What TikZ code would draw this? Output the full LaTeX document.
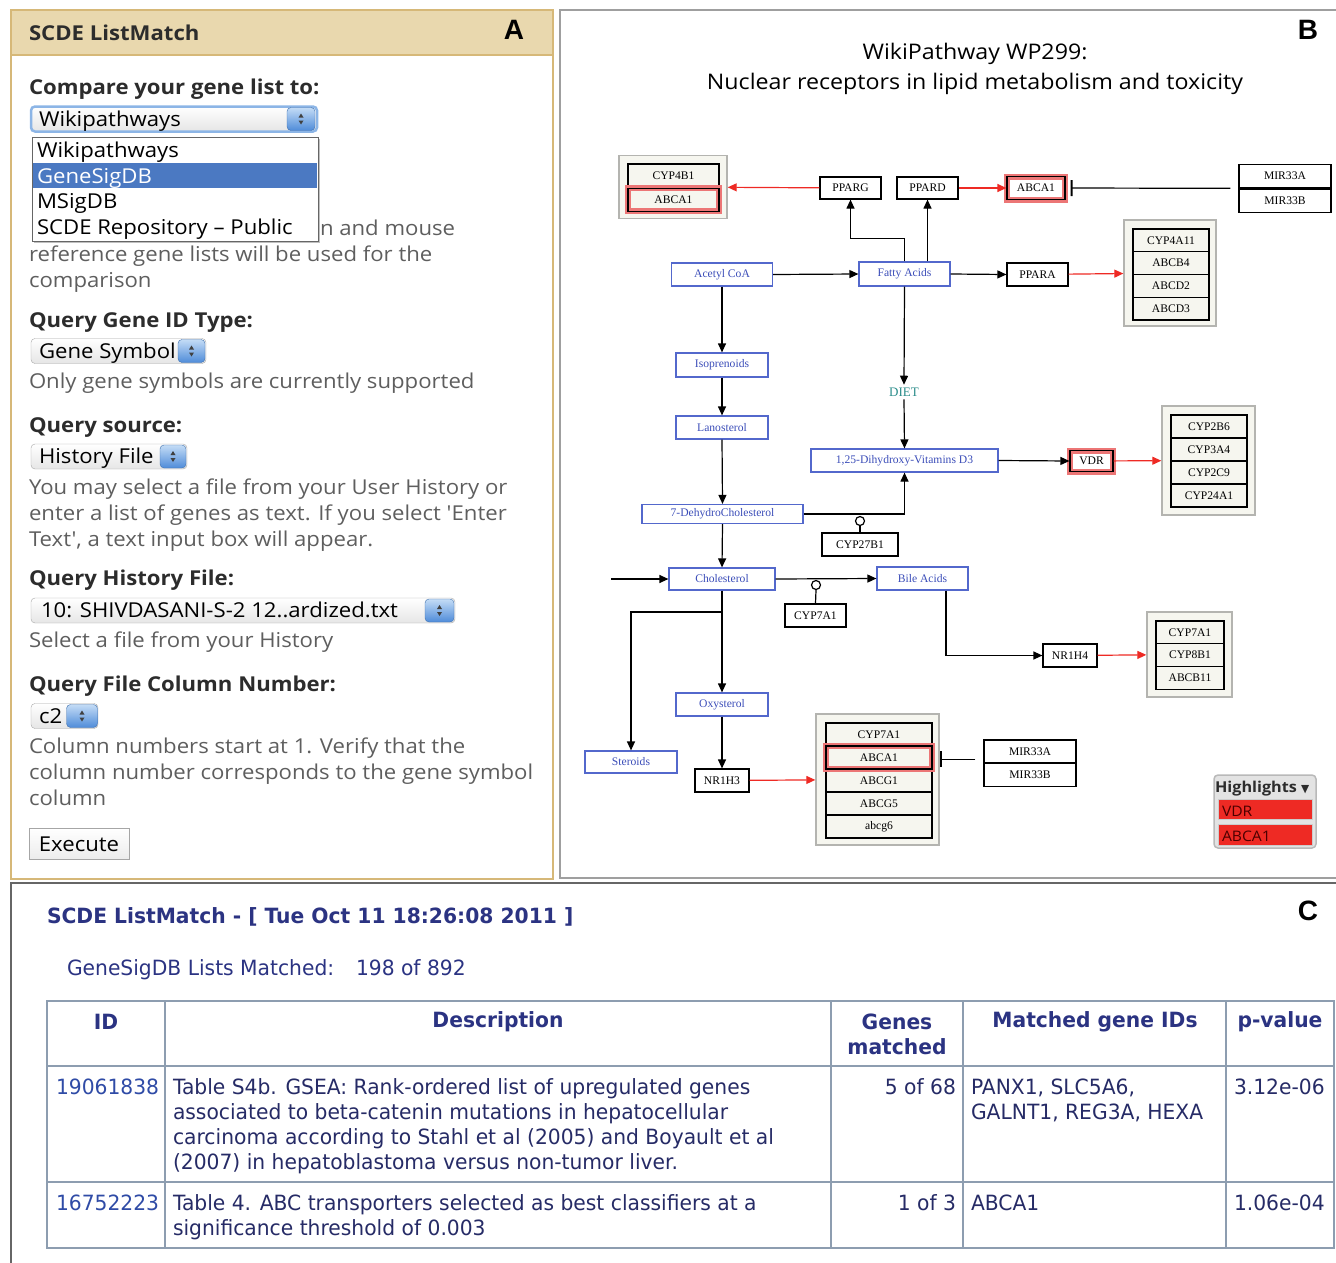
\documentclass[tikz,border=0pt]{standalone}
\usepackage{fontspec}
\setmainfont{Liberation Serif}
\newfontfamily\uifont[FakeStretch=1.08]{Open Sans}
\newfontfamily\tabfont[FakeStretch=0.965]{DejaVu Sans}
\newfontfamily\labfont{Liberation Sans}
\usetikzlibrary{arrows.meta,positioning,calc,shadows}

\definecolor{tanfill}{HTML}{E9D8AE}
\definecolor{tanline}{HTML}{D6B878}
\definecolor{headtxt}{HTML}{2C2C2C}
\definecolor{bodytxt}{HTML}{5E5E5E}
\definecolor{focusblue}{HTML}{8CB5E6}
\definecolor{listblue}{HTML}{4B79C2}
\definecolor{stepA}{HTML}{C4DCF6}
\definecolor{stepB}{HTML}{4F8CD9}
\definecolor{pwblue}{HTML}{3B4DB8}
\definecolor{pwline}{HTML}{5368CC}
\definecolor{grpfill}{HTML}{F6F6EF}
\definecolor{grpline}{HTML}{B4B4B0}
\definecolor{actred}{HTML}{EE2A24}
\definecolor{hlred}{HTML}{EC7676}
\definecolor{dietteal}{HTML}{2A8C8A}
\definecolor{navy}{HTML}{2B3382}
\definecolor{linkblue}{HTML}{2F4BA6}
\definecolor{tabline}{HTML}{8D9DB0}
\definecolor{tabtxt}{HTML}{262B66}

\tikzset{txt base/.style={inner sep=0pt,outer sep=0pt,anchor=mid west,yshift=-5pt}, }
\tikzset{ui head/.style={txt base,font=\uifont\bfseries\fontsize{20.5}{22}\selectfont,text=headtxt}, }
\tikzset{ui body/.style={txt base,font=\uifont\fontsize{20.5}{22}\selectfont,text=bodytxt}, }
\tikzset{ui sel/.style={txt base,font=\uifont\fontsize{20.5}{24}\selectfont,text=black}, }
\tikzset{sel box/.style={rectangle,rounded corners=4pt,draw=gray!70,top color=white,bottom color=gray!20,minimum height=25pt}, }
\tikzset{sel btn/.style={rectangle,rounded corners=4pt,draw=stepB!80!black,top color=stepA,bottom color=stepB,minimum height=23pt,minimum width=28pt}, }
\tikzset{gene/.style={rectangle,draw,line width=1.2pt,inner sep=0pt,font=\fontsize{11.6}{12}\selectfont,minimum height=23pt}, }
\tikzset{metab/.style={gene,draw=pwline,text=pwblue}, }
\tikzset{grp/.style={rectangle,draw=grpline,fill=grpfill,line width=1.4pt}, }
\tikzset{hl/.style={preaction={draw=hlred,line width=6pt}}, }
\tikzset{linea/.style={-{Triangle[length=9pt,width=8pt]},line width=1.2pt,draw}}
\tikzset{linea red/.style={linea,draw=actred}}
\tikzset{inib/.style={-{Bar[width=16pt,line width=2pt]},line width=1.2pt}}
\tikzset{cat/.style={circle,draw,line width=1.2pt,fill=white,minimum size=9pt,inner sep=0pt}, }
\tikzset{tab txt/.style={txt base,font=\tabfont\fontsize{21}{24}\selectfont,text=tabtxt}, }
\tikzset{tab head/.style={inner sep=0pt,font=\tabfont\bfseries\fontsize{21}{24}\selectfont,text=navy}, }
\tikzset{panel lab/.style={inner sep=0pt,font=\labfont\bfseries\fontsize{28}{30}\selectfont}, }

% little up/down arrows of a select button
\newcommand\updown[1]{%
  \fill[black!75] ($(#1.center)+(-2.5,-1.5)$) -- ++(5,0) -- ++(-2.5,-4) -- cycle;
  \fill[black!75] ($(#1.center)+(-2.5,1.5)$) -- ++(5,0) -- ++(-2.5,4) -- cycle;}

\begin{document}
\begin{tikzpicture}[x=1pt,y=-1pt]
\useasboundingbox (0,0) rectangle (1336,1263);

%% ---------------- A ----------------
\fill[tanfill] (11,10) rectangle (553,55);
\draw[tanline,line width=1.5pt] (11,10) rectangle (553,879);
\draw[tanline,line width=1.5pt] (11,55) -- (553,55);
\node[ui head] (ta) at (29,33) {SCDE ListMatch};
\node[panel lab] (la) at (514,30) {A};

\node[ui head] (h1) at (29,87) {Compare your gene list to:};
\node[sel box,draw=focusblue,line width=2.5pt,minimum width=286pt] (s1) at (174,119) {};
\node[sel btn] (s1b) at (301,119) {};
\updown{s1b}
\node[ui sel] (s1t) at (39,119) {Wikipathways};

\node[ui body] (cmp0) at (320,228) {n and mouse};
\node[ui body] (cmp1) at (29,254) {reference gene lists will be used for the};
\node[ui body] (cmp2) at (29,280) {comparison};

% open list of the first select
\node[rectangle,draw=gray!80!black,fill=white,drop shadow,minimum width=286pt,minimum height=104pt] (dd) at (175,189) {};
\node[rectangle,fill=listblue,minimum width=284pt,minimum height=25pt,inner sep=0pt] (dd2) at (175,175.5) {};
\node[ui sel] (i1) at (37,150) {Wikipathways};
\node[ui sel,text=white] (i2) at (37,176) {GeneSigDB};
\node[ui sel] (i3) at (37,201) {MSigDB};
\node[ui sel] (i4) at (37,227) {SCDE Repository – Public};

\node[ui head] (h2) at (29,320) {Query Gene ID Type:};
\node[sel box,minimum width=175pt] (s2) at (118.5,351) {};
\node[sel btn,minimum width=27pt] (s2b) at (191.5,351) {};
\updown{s2b}
\node[ui sel] (s2t) at (39,351) {Gene Symbol};
\node[ui body] (g1) at (29,381) {Only gene symbols are currently supported};

\node[ui head] (h3) at (29,425) {Query source:};
\node[sel box,minimum width=156pt] (s3) at (109,456.5) {};
\node[sel btn,minimum width=26pt] (s3b) at (173,456.5) {};
\updown{s3b}
\node[ui sel] (s3t) at (39,456.5) {History File};
\foreach \t [count=\i] in {{You may select a file from your User History or},{enter a list of genes as text. If you select 'Enter},{Text', a text input box will appear.}}
  \node[ui body] (qs\i) at (29,461+26*\i) {\t};

\node[ui head] (h4) at (29,578) {Query History File:};
\node[sel box,minimum width=424pt] (s4) at (243,610.5) {};
\node[sel btn,minimum width=29pt] (s4b) at (439.5,610.5) {};
\updown{s4b}
\node[ui sel] (s4t) at (41,610.5) {10: SHIVDASANI-S-2 12..ardized.txt};
\node[ui body] (hf) at (29,640) {Select a file from your History};

\node[ui head] (h5) at (29,684) {Query File Column Number:};
\node[sel box,minimum width=67pt] (s5) at (64.5,716) {};
\node[sel btn,minimum width=31pt] (s5b) at (82,716) {};
\updown{s5b}
\node[ui sel] (s5t) at (39,716) {c2};
\foreach \t [count=\i] in {{Column numbers start at 1. Verify that the},{column number corresponds to the gene symbol},{column}}
  \node[ui body] (cn\i) at (29,720+26*\i) {\t};

\node[rectangle,draw=gray!70,top color=white,bottom color=gray!15,minimum width=100pt,minimum height=31pt,
      font=\uifont\fontsize{20.5}{24}\selectfont] (exe) at (79,844) {Execute};

%% ---------------- B ----------------
\draw[gray!75,line width=1.5pt] (1336,10) -- (560,10) -- (560,878) -- (1336,878);
\node[panel lab] (lb) at (1308,30) {B};
\node[font=\uifont\fontsize{21.5}{24}\selectfont,inner sep=0pt] (tb1) at (975,54) {WikiPathway WP299:};
\node[font=\uifont\fontsize{21.5}{24}\selectfont,inner sep=0pt] (tb2) at (975,84) {Nuclear receptors in lipid metabolism and toxicity};

% gene groups
\node[grp,minimum width=108pt,minimum height=63pt] (grp1) at (673,187) {};
\node[gene,minimum width=91pt] (cyp4b1) at (673.5,175.5) {CYP4B1};
\node[gene,hl,minimum width=91pt] (abca1a) [below=0pt of cyp4b1] {ABCA1};

\node[grp,minimum width=92pt,minimum height=106pt] (grp2) at (1170,273) {};
\foreach \g [count=\i] in {CYP4A11,ABCB4,ABCD2,ABCD3}
  \node[gene,minimum width=76pt,minimum height=22.75pt] (pa\i) at (1171,229+22.75*\i-11.4) {\g};

\node[grp,minimum width=93pt,minimum height=109pt] (grp5) at (1208.5,460.5) {};
\foreach \g [count=\i] in {CYP2B6,CYP3A4,CYP2C9,CYP24A1}
  \node[gene,minimum width=76pt] (vd\i) at (1209,415+23*\i-11.5) {\g};

\node[grp,minimum width=85pt,minimum height=85pt] (grp3) at (1189.5,654.5) {};
\foreach \g [count=\i] in {CYP7A1,CYP8B1,ABCB11}
  \node[gene,minimum width=68pt,minimum height=22.7pt] (fx\i) at (1190,621+22.7*\i-11.35) {\g};

\node[grp,minimum width=123pt,minimum height=131pt] (grp4) at (877.5,779.5) {};
\foreach \g [count=\i] in {CYP7A1,ABCA1,ABCG1,ABCG5,abcg6}
  \node[gene,minimum width=106pt] (lx\i) at (879,723+23*\i-11.5) {\g};
\node[gene,hl,minimum width=106pt] (lxh) at (lx2) {};

% single genes
\node[gene,minimum width=61pt,minimum height=22pt] (pparg) at (850.5,188) {PPARG};
\node[gene,minimum width=61pt,minimum height=22pt] (ppard) at (927.5,188) {PPARD};
\node[gene,hl,minimum width=58pt,minimum height=23pt] (abca1b) at (1036,188) {ABCA1};
\node[gene,minimum width=92pt,minimum height=23.5pt] (mira) at (1285,176) {MIR33A};
\node[gene,minimum width=92pt,minimum height=23.5pt] (mirb) [below=0pt of mira] {MIR33B};
\node[gene,minimum width=61pt] (ppara) at (1037.5,274.5) {PPARA};
\node[gene,hl,minimum width=43pt,minimum height=21pt] (vdr) at (1091.5,461) {VDR};
\node[gene,minimum width=76pt] (cyp27) at (860,544.5) {CYP27B1};
\node[gene,minimum width=61pt] (cyp7) at (815.5,615.5) {CYP7A1};
\node[gene,minimum width=54pt] (nr1h4) at (1070,655.5) {NR1H4};
\node[gene,minimum width=54pt] (nr1h3) at (722,780.5) {NR1H3};
\node[gene,minimum width=92pt,minimum height=22.5pt] (mirc) at (1030,751.3) {MIR33A};
\node[gene,minimum width=92pt,minimum height=22.5pt] (mird) [below=0pt of mirc] {MIR33B};

% metabolites
\node[metab,minimum width=101pt] (acoa) at (722,274.5) {Acetyl CoA};
\node[metab,minimum width=91pt,minimum height=24pt] (fa) at (904.5,274) {Fatty Acids};
\node[metab,minimum width=92pt,minimum height=24pt] (iso) at (722,365) {Isoprenoids};
\node[metab,minimum width=92pt] (lano) at (722,427.5) {Lanosterol};
\node[metab,minimum width=187pt] (vitd) at (904.5,460.5) {1,25-Dihydroxy-Vitamins D3};
\node[metab,minimum width=161pt,minimum height=19pt] (dhc) at (722.5,514) {7-DehydroCholesterol};
\node[metab,minimum width=106pt,minimum height=22pt] (chol) at (722,579) {Cholesterol};
\node[metab,minimum width=91pt] (bile) at (922.5,578.5) {Bile Acids};
\node[metab,minimum width=92pt] (oxy) at (722,704.5) {Oxysterol};
\node[metab,minimum width=92pt,minimum height=22pt] (ster) at (631,762) {Steroids};
\node[inner sep=0pt,outer sep=3pt,font=\fontsize{13}{14}\selectfont,text=dietteal] (diet) at (904,392) {DIET};

% catalysis
\node[cat] (k27) at (860,521) {};
\node[cat] (k7) at (816,585) {};
\coordinate (cin) at (611,579);
\coordinate (brk) at (722,612);

\foreach \x/\y in {acoa/fa,fa/ppara,vitd/vdr,chol/bile,cin/chol}
  \path[linea] (\x.east) -- (\y.west);
\foreach \x/\y in {acoa/iso,iso/lano,lano/dhc,dhc/chol,chol/oxy,oxy/nr1h3,fa/diet,diet/vitd}
  \path[linea] (\x.south) -- (\y.north);
\foreach \x/\y in {pparg/grp1,ppard/abca1b,ppara/grp2,vdr/grp5,nr1h4/grp3,nr1h3/grp4}
  \path[linea red] (\x) -- (\y);
\path[linea] (fa.north) -- ++(0,-23) -| (pparg.south);
\path[linea] (fa.north -| ppard.south) -- (ppard.south);
\path[linea] (dhc.east) -| (vitd.south);
\path[linea] (brk) -| (ster.north);
\path[linea] ([xshift=23.5pt]bile.south) |- (nr1h4.west);
\draw[line width=1.2pt] (cyp27.north) -- (k27.south);
\draw[line width=1.2pt] (cyp7.north) -- (k7.south);
\draw[inib,shorten <=8pt,shorten >=5pt] (mirb.north west) -- (abca1b.east);
\draw[inib,shorten <=8pt] ([yshift=4pt]mirc.south west) -- ([yshift=4pt]mirc.south west -| grp4.east);

% highlight legend
\node[rectangle,rounded corners=4pt,draw=gray!55,fill=gray!22,line width=1.5pt,minimum width=102pt,minimum height=73pt] (hlb) at (1265,811.5) {};
\node[txt base,font=\uifont\bfseries\fontsize{15}{18}\selectfont,text=headtxt] (hlt) at (1215,785) {Highlights {\tabfont\fontsize{11}{12}\selectfont ▼}};
\node[rectangle,fill=actred,draw=gray!40,minimum width=94pt,minimum height=20pt] (hlv) at (1265,809) {};
\node[rectangle,fill=actred,draw=gray!40,minimum width=94pt,minimum height=21pt] (hla) at (1265,834.5) {};
\node[txt base,font=\uifont\fontsize{14.5}{18}\selectfont,text=black!70!red] (hlv1) at (1222,809) {VDR};
\node[txt base,font=\uifont\fontsize{14.5}{18}\selectfont,text=black!70!red] (hla1) at (1222,834.5) {ABCA1};

%% ---------------- C ----------------
\draw[gray!80!black,line width=1.5pt] (11,1263) -- (11,883) -- (1336,883);
\node[panel lab] (lc) at (1308,911) {C};
\node[tab txt,font=\tabfont\bfseries\fontsize{21}{24}\selectfont,text=navy] (tc) at (47,916) {SCDE ListMatch - [ Tue Oct 11 18:26:08 2011 ]};
\node[tab txt,text=navy] (gm) at (67,968) {GeneSigDB Lists Matched:};
\node[tab txt,text=navy] (gmn) at (356,968) {198 of 892};

\draw[tabline,line width=2pt] (47,1001) rectangle (1334,1248);
\foreach \x in {165,831,963,1226}
  \draw[tabline,line width=2pt] (\x,1001) -- (\x,1248);
\foreach \y in {1066,1182}
  \draw[tabline,line width=2pt] (47,\y) -- (1334,\y);

\node[tab head] (c1) at (106,1022) {ID};
\node[tab head] (c2) at (498,1022) {Description};
\node[tab head] (c3a) at (897,1022) {Genes};
\node[tab head] (c3b) at (897,1047) {matched};
\node[tab head] (c4) at (1095,1022) {Matched gene IDs};
\node[tab head] (c5) at (1280,1022) {p-value};

% row 1
\node[tab txt,text=linkblue] (id1) at (56,1087) {19061838};
\foreach \t [count=\i] in {{Table S4b. GSEA: Rank-ordered list of upregulated genes},{associated to beta-catenin mutations in hepatocellular},{carcinoma according to Stahl et al (2005) and Boyault et al},{(2007) in hepatoblastoma versus non-tumor liver.}}
  \node[tab txt] (da\i) at (173,1062+25*\i) {\t};
\node[tab txt,anchor=mid east] (gn1) at (956,1087) {5 of 68};
\node[tab txt] (ga1) at (971,1087) {PANX1, SLC5A6,};
\node[tab txt] (ga2) at (971,1112) {GALNT1, REG3A, HEXA};
\node[tab txt] (pv1) at (1234,1087) {3.12e-06};
% row 2
\node[tab txt,text=linkblue] (id2) at (56,1203) {16752223};
\foreach \t [count=\i] in {{Table 4. ABC transporters selected as best classifiers at a},{significance threshold of 0.003}}
  \node[tab txt] (db\i) at (173,1178+25*\i) {\t};
\node[tab txt,anchor=mid east] (gn2) at (956,1203) {1 of 3};
\node[tab txt] (gb1) at (971,1203) {ABCA1};
\node[tab txt] (pv2) at (1234,1203) {1.06e-04};
\end{tikzpicture}
\end{document}
